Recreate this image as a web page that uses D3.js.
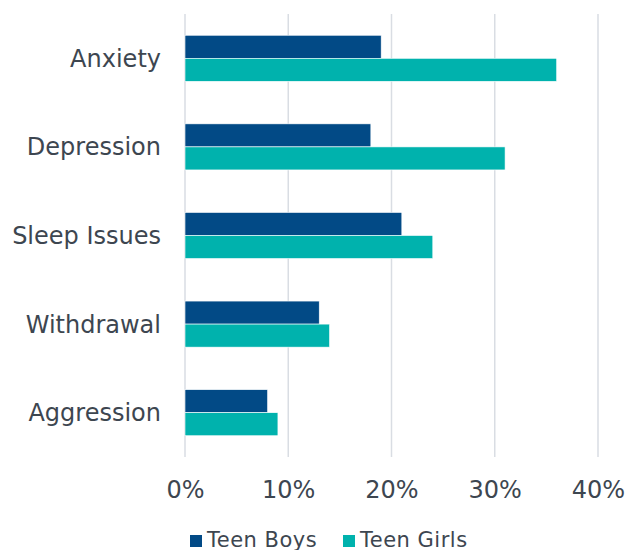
<!DOCTYPE html>
<html>
<head>
<meta charset="utf-8">
<script src="https://cdn.jsdelivr.net/npm/d3@7"></script>
<style>
  html, body { margin: 0; padding: 0; background: #ffffff; }
  svg { display: block; }
  text { font-family: "DejaVu Sans", Verdana, sans-serif; fill: #3d4650; }
</style>
</head>
<body>
<svg id="chart" width="625" height="550"></svg>
<script>
// Share of teens reporting each issue (percent)
const categories = ["Anxiety", "Depression", "Sleep Issues", "Withdrawal", "Aggression"];
const seriesNames = ["Teen Boys", "Teen Girls"];
const teenBoys = [19, 18, 21, 13, 8];
const teenGirls = [36, 31, 24, 14, 9];
const xTicks = [0, 10, 20, 30, 40];
const seriesColors = ["#024a86", "#00b2ad"];

const svg = d3.select("#chart");
const plot = { left: 185, right: 598, top: 14, bottom: 457 };

const x = d3.scaleLinear().domain([0, 40]).range([plot.left, plot.right]);
const y = d3.scaleBand().domain(categories).range([plot.top, plot.bottom]).paddingInner(0.48).paddingOuter(0.24);
const ySub = d3.scaleBand().domain(seriesNames).range([0, y.bandwidth()]);

// Vertical gridlines
svg.append("g")
  .selectAll("line")
  .data(xTicks)
  .join("line")
  .attr("x1", d => x(d)).attr("x2", d => x(d))
  .attr("y1", plot.top).attr("y2", plot.bottom)
  .attr("stroke", "#d9dde3")
  .attr("stroke-width", 1.5);

// Bars
const rows = categories.map((c, i) => ({ cat: c, values: [teenBoys[i], teenGirls[i]] }));
const groups = svg.append("g").selectAll("g")
  .data(rows)
  .join("g")
  .attr("transform", d => `translate(0,${y(d.cat)})`);

groups.selectAll("rect")
  .data(d => d.values.map((v, j) => ({ name: seriesNames[j], value: v, color: seriesColors[j] })))
  .join("rect")
  .attr("x", x(0))
  .attr("y", d => ySub(d.name))
  .attr("width", d => x(d.value) - x(0))
  .attr("height", ySub.bandwidth())
  .attr("fill", d => d.color)
  .attr("stroke", "#ffffff")
  .attr("stroke-width", 0.6);

// Category axis labels
const yAxis = d3.axisLeft(y).tickSize(0).tickPadding(0);
const yG = svg.append("g").attr("transform", `translate(${plot.left - 24},0)`).call(yAxis);
yG.select(".domain").remove();
yG.selectAll("text")
  .attr("font-size", 24)
  .attr("dy", "0.35em")
  .style("font-family", "'DejaVu Sans', Verdana, sans-serif")
  .attr("fill", "#3d4650");

// Percentage axis labels
const xAxis = d3.axisBottom(x).tickValues(xTicks).tickFormat(d => d + "%").tickSize(0).tickPadding(0);
const xG = svg.append("g").attr("transform", `translate(0,498)`).call(xAxis);
xG.select(".domain").remove();
xG.selectAll("text")
  .attr("font-size", 24)
  .attr("dy", 0)
  .style("font-family", "'DejaVu Sans', Verdana, sans-serif")
  .attr("fill", "#3d4650");

// Legend
const legendX = [190, 343];
const legend = svg.append("g").selectAll("g")
  .data(seriesNames)
  .join("g")
  .attr("transform", (d, i) => `translate(${legendX[i]},535)`);
legend.append("rect")
  .attr("width", 12).attr("height", 12)
  .attr("fill", (d, i) => seriesColors[i]);
legend.append("text")
  .attr("x", 17).attr("y", 12)
  .attr("font-size", 21)
  .attr("letter-spacing", 0.5)
  .text(d => d);
</script>
</body>
</html>
